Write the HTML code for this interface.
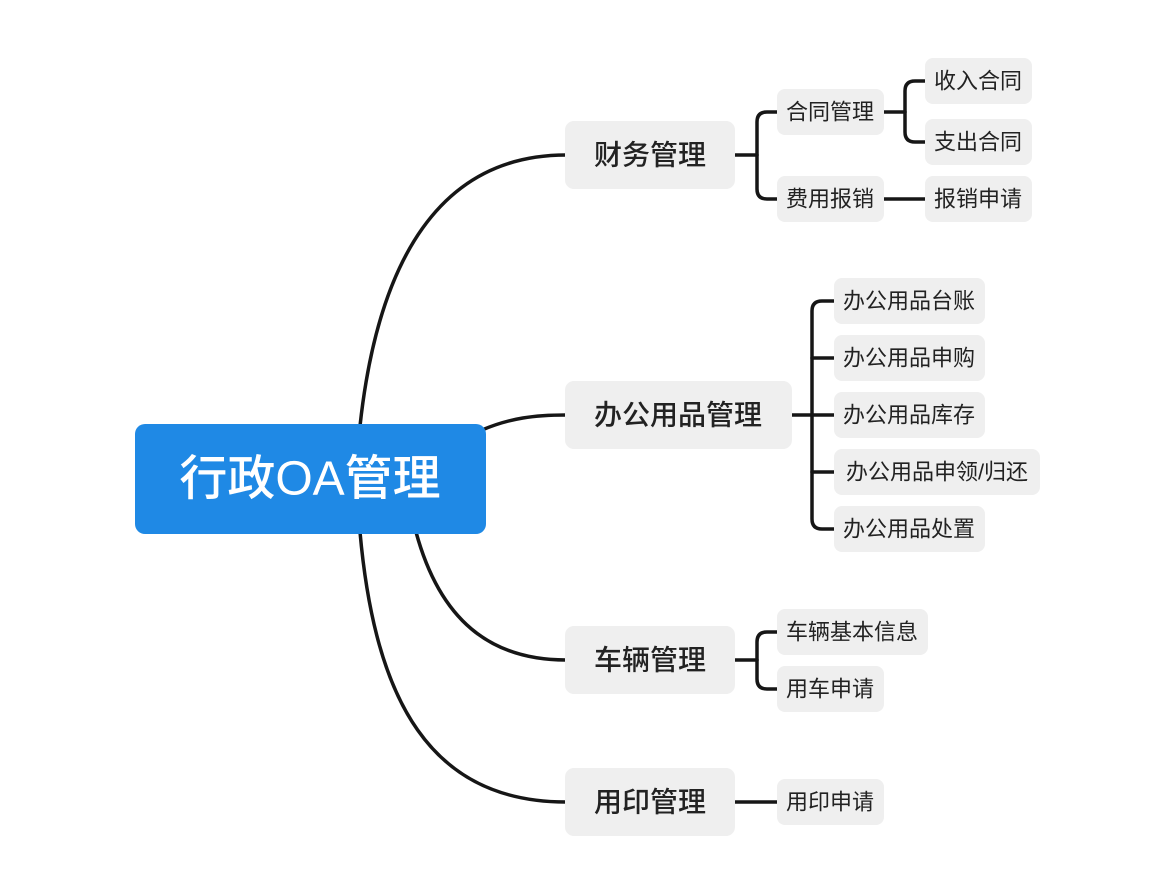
<!DOCTYPE html>
<html><head><meta charset="utf-8"><style>
html,body{margin:0;padding:0;background:#fff;}
svg{display:block;}
text{font-family:"Liberation Sans","Noto Sans CJK SC",sans-serif;fill:#222;dominant-baseline:central;text-anchor:middle;}
.n{fill:#efefef;}
.l{fill:none;stroke:#161616;stroke-width:3.5;stroke-linecap:round;}
.t1{font-size:28px;font-weight:500;}
.t2{font-size:22px;}
</style></head><body>
<svg width="1168" height="892" viewBox="0 0 1168 892">
<path class="l" d="M360,426 C378,260 440,155 566,155"/>
<path class="l" d="M482,430 C510,418 535,415 566,415"/>
<path class="l" d="M416,532 C440,620 490,660 566,660"/>
<path class="l" d="M360,532 C375,700 430,802 566,802"/>
<path class="l" d="M735,155 H757"/>
<path class="l" d="M777,112 H767 Q757,112 757,122 V189 Q757,199 767,199 H777"/>
<path class="l" d="M884,112 H905"/>
<path class="l" d="M925,81 H915 Q905,81 905,91 V132 Q905,142 915,142 H925"/>
<path class="l" d="M884,199 H925"/>
<path class="l" d="M792,415 H834"/>
<path class="l" d="M834,301 H822 Q812,301 812,311 V519 Q812,529 822,529 H834"/>
<path class="l" d="M812,358 H834 M812,472 H834"/>
<path class="l" d="M735,660 H757"/>
<path class="l" d="M777,632 H767 Q757,632 757,642 V679 Q757,689 767,689 H777"/>
<path class="l" d="M735,802 H777"/>

<rect x="135" y="424" width="351" height="110" rx="10" fill="#1f89e5"/>
<text x="310" y="479" style="font-size:48px;fill:#fff;font-weight:500">行政OA管理</text>

<rect class="n" x="565" y="121" width="170" height="68" rx="9"/><text class="t1" x="650" y="155">财务管理</text>
<rect class="n" x="565" y="381" width="227" height="68" rx="9"/><text class="t1" x="678" y="415">办公用品管理</text>
<rect class="n" x="565" y="626" width="170" height="68" rx="9"/><text class="t1" x="650" y="660">车辆管理</text>
<rect class="n" x="565" y="768" width="170" height="68" rx="9"/><text class="t1" x="650" y="802">用印管理</text>

<rect class="n" x="777" y="89" width="107" height="46" rx="8"/><text class="t2" x="830" y="112">合同管理</text>
<rect class="n" x="777" y="176" width="107" height="46" rx="8"/><text class="t2" x="830" y="199">费用报销</text>
<rect class="n" x="925" y="58" width="107" height="46" rx="8"/><text class="t2" x="978" y="81">收入合同</text>
<rect class="n" x="925" y="119" width="107" height="46" rx="8"/><text class="t2" x="978" y="142">支出合同</text>
<rect class="n" x="925" y="176" width="107" height="46" rx="8"/><text class="t2" x="978" y="199">报销申请</text>

<rect class="n" x="834" y="278" width="151" height="46" rx="8"/><text class="t2" x="909" y="301">办公用品台账</text>
<rect class="n" x="834" y="335" width="151" height="46" rx="8"/><text class="t2" x="909" y="358">办公用品申购</text>
<rect class="n" x="834" y="392" width="151" height="46" rx="8"/><text class="t2" x="909" y="415">办公用品库存</text>
<rect class="n" x="834" y="449" width="206" height="46" rx="8"/><text class="t2" x="937" y="472">办公用品申领/归还</text>
<rect class="n" x="834" y="506" width="151" height="46" rx="8"/><text class="t2" x="909" y="529">办公用品处置</text>

<rect class="n" x="777" y="609" width="151" height="46" rx="8"/><text class="t2" x="852" y="632">车辆基本信息</text>
<rect class="n" x="777" y="666" width="107" height="46" rx="8"/><text class="t2" x="830" y="689">用车申请</text>
<rect class="n" x="777" y="779" width="107" height="46" rx="8"/><text class="t2" x="830" y="802">用印申请</text>
</svg>
</body></html>
